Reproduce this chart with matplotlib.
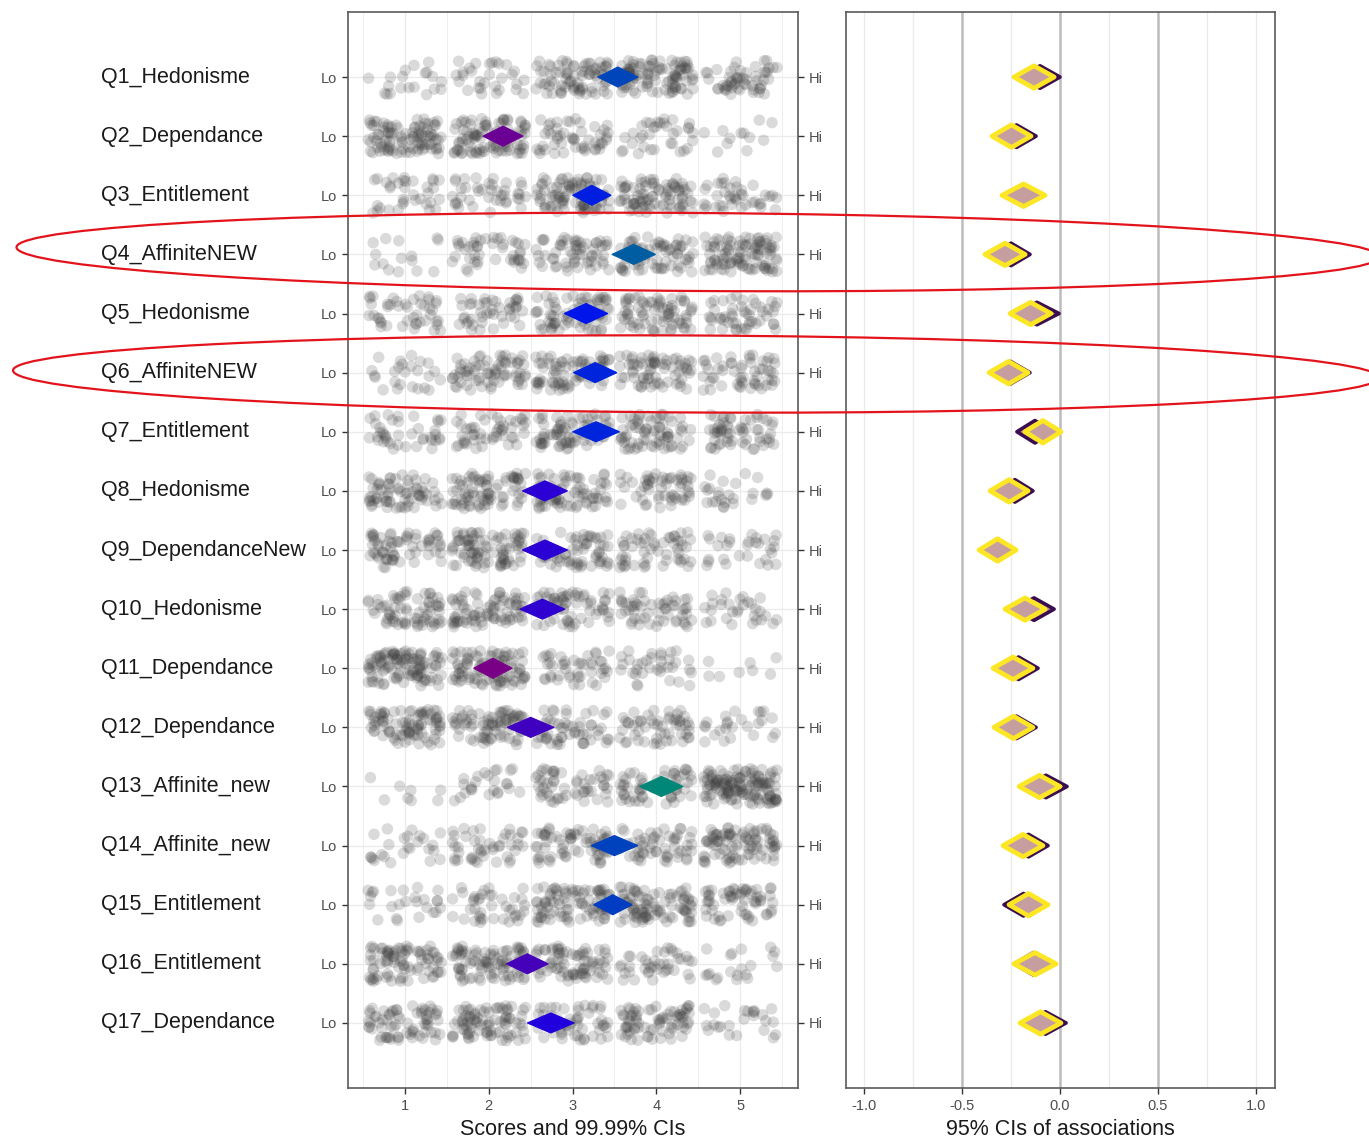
import numpy as np
import matplotlib
matplotlib.use("Agg")
import matplotlib.pyplot as plt
from matplotlib.colors import LinearSegmentedColormap, Normalize
from matplotlib.patches import Polygon, Ellipse
from matplotlib.transforms import blended_transform_factory

plt.rcParams['font.family'] = ['Liberation Sans', 'DejaVu Sans']

# ---------------- data ----------------
items = ["Q1_Hedonisme", "Q2_Dependance", "Q3_Entitlement", "Q4_AffiniteNEW",
         "Q5_Hedonisme", "Q6_AffiniteNEW", "Q7_Entitlement", "Q8_Hedonisme",
         "Q9_DependanceNew", "Q10_Hedonisme", "Q11_Dependance", "Q12_Dependance",
         "Q13_Affinite_new", "Q14_Affinite_new", "Q15_Entitlement",
         "Q16_Entitlement", "Q17_Dependance"]

# number of responses at score levels 1..5 (estimated from point density)
levels = [1, 2, 3, 4, 5]
counts = [
    [20, 30, 80, 100, 55],
    [100, 95, 50, 35, 12],
    [35, 40, 90, 85, 40],
    [15, 45, 60, 70, 100],
    [45, 45, 80, 75, 50],
    [25, 70, 75, 70, 55],
    [40, 50, 75, 70, 60],
    [70, 80, 75, 55, 25],
    [65, 90, 65, 55, 30],
    [70, 80, 65, 55, 30],
    [110, 95, 45, 35, 8],
    [90, 80, 55, 55, 25],
    [8, 25, 55, 60, 140],
    [25, 45, 70, 55, 90],
    [25, 40, 90, 90, 60],
    [85, 90, 75, 40, 20],
    [70, 85, 55, 75, 25],
]

# item means and 99.99% CI bounds
means = [3.54, 2.17, 3.23, 3.73, 3.16, 3.27, 3.28, 2.67, 2.67, 2.64,
         2.05, 2.50, 4.06, 3.50, 3.48, 2.46, 2.74]
ci_lo = [3.30, 1.93, 3.00, 3.47, 2.90, 3.01, 3.00, 2.40, 2.40, 2.37,
         1.82, 2.22, 3.80, 3.22, 3.25, 2.21, 2.46]
ci_hi = [3.78, 2.41, 3.46, 3.99, 3.42, 3.53, 3.56, 2.94, 2.94, 2.91,
         2.28, 2.78, 4.32, 3.78, 3.71, 2.71, 3.02]

# 95% CIs of associations (two targets)
assoc1_lo = [-0.235, -0.347, -0.296, -0.383, -0.255, -0.362, -0.179, -0.357, -0.413,
             -0.281, -0.342, -0.337, -0.209, -0.291, -0.260, -0.235, -0.204]
assoc1_hi = [-0.030, -0.148, -0.076, -0.178, -0.046, -0.163, 0.005, -0.163, -0.224,
             -0.076, -0.138, -0.138, 0.000, -0.087, -0.061, -0.020, 0.005]
assoc2_lo = [-0.204, -0.322, -0.286, -0.347, -0.230, -0.352, -0.220, -0.322, -0.408,
             -0.235, -0.311, -0.322, -0.179, -0.260, -0.286, -0.235, -0.179]
assoc2_hi = [0.000, -0.122, -0.087, -0.153, -0.005, -0.153, -0.036, -0.138, -0.229,
             -0.030, -0.112, -0.122, 0.036, -0.061, -0.087, -0.036, 0.031]

left_ticks = [1, 2, 3, 4, 5]
right_ticks = [-1.0, -0.5, 0.0, 0.5, 1.0]
right_ticklabels = ["-1.0", "-0.5", "0.0", "0.5", "1.0"]

# ---------------- figure ----------------
W, H = 1369, 1143
fig = plt.figure(figsize=(W / 100, H / 100), dpi=100)
fig.patch.set_facecolor('white')

axL = fig.add_axes([348 / W, 1 - 1088 / H, 450 / W, 1076 / H])
axR = fig.add_axes([846 / W, 1 - 1088 / H, 429 / W, 1076 / H])

n = len(items)
ypos = np.arange(n, 0, -1)  # Q1 at top
ylim = (-0.1, 18.1)

cmap = LinearSegmentedColormap.from_list("rbg", ["#FF0000", "#0000FF", "#00FF00"])
norm = Normalize(1, 5)

grid_c = '#ebebeb'
spine_c = '#5a5a5a'
tick_c = '#4d4d4d'

# ---- left panel ----
axL.set_xlim(0.32, 5.69)
axL.set_ylim(*ylim)
for v in np.arange(0.5, 5.51, 0.5):
    axL.axvline(v, color=grid_c, lw=1.0 if v % 1 == 0 else 0.6, zorder=0)
for y in ypos:
    axL.axhline(y, color=grid_c, lw=1.0, zorder=0)

rng = np.random.default_rng(7)  # jitter only (like geom_jitter)
for y, cnt in zip(ypos, counts):
    xs, ys = [], []
    for lev, c in zip(levels, cnt):
        xs.append(lev + rng.uniform(-0.44, 0.44, c))
        ys.append(y + rng.uniform(-0.30, 0.30, c))
    axL.scatter(np.concatenate(xs), np.concatenate(ys), s=68, color='#3c3c3c',
                alpha=0.19, edgecolors='none', zorder=2)

hL = 0.17
for y, m, lo, hi in zip(ypos, means, ci_lo, ci_hi):
    col = cmap(norm(m))
    axL.add_patch(Polygon([(lo, y), (m, y + hL), (hi, y), (m, y - hL)], closed=True,
                          facecolor=col, edgecolor=col, lw=0.8, zorder=4))

axL.set_xticks(left_ticks)
axL.set_xticklabels([str(t) for t in left_ticks])
axL.set_yticks(ypos)
axL.set_yticklabels(['Lo'] * n)
axL.tick_params(axis='both', colors='#333333', labelcolor=tick_c, labelsize=10.5,
                length=4.5, width=1.0)
axL.set_xlabel("Scores and 99.99% CIs", fontsize=15.5, color='#1a1a1a', labelpad=4)
for s in axL.spines.values():
    s.set_color(spine_c)
    s.set_linewidth(1.2)

axL2 = axL.twinx()
axL2.set_ylim(*ylim)
axL2.set_yticks(ypos)
axL2.set_yticklabels(['Hi'] * n)
axL2.tick_params(axis='y', colors='#333333', labelcolor=tick_c, labelsize=10.5,
                 length=4.5, width=1.0)
for s in axL2.spines.values():
    s.set_visible(False)

trans = blended_transform_factory(fig.transFigure, axL.transData)
for y, name in zip(ypos, items):
    axL.text(101 / W, y, name, transform=trans, ha='left', va='center',
             fontsize=15.5, color='#1a1a1a')

# ---- right panel ----
axR.set_xlim(-1.092, 1.097)
axR.set_ylim(*ylim)
for v in np.arange(-1.0, 1.01, 0.25):
    axR.axvline(v, color=grid_c, lw=1.0, zorder=0)
for v in [-0.5, 0.0, 0.5]:
    axR.axvline(v, color='#bdbdbd', lw=1.8, zorder=0.5)

hR = 0.19
for y, l1, h1, l2, h2 in zip(ypos, assoc1_lo, assoc1_hi, assoc2_lo, assoc2_hi):
    m2 = (l2 + h2) / 2
    axR.add_patch(Polygon([(l2, y), (m2, y + hR), (h2, y), (m2, y - hR)], closed=True,
                          facecolor='#b8909c', edgecolor='#3b0f4f', lw=2.6, zorder=3,
                          joinstyle='round'))
    m1 = (l1 + h1) / 2
    axR.add_patch(Polygon([(l1, y), (m1, y + hR), (h1, y), (m1, y - hR)], closed=True,
                          facecolor='#c79ea0', edgecolor='#FDE725', lw=3.4, zorder=4,
                          joinstyle='round'))

axR.set_xticks(right_ticks)
axR.set_xticklabels(right_ticklabels)
axR.set_yticks([])
axR.tick_params(axis='x', colors='#333333', labelcolor=tick_c, labelsize=10.5,
                length=4.5, width=1.0)
axR.set_xlabel("95% CIs of associations", fontsize=15.5, color='#1a1a1a', labelpad=4)
for s in axR.spines.values():
    s.set_color(spine_c)
    s.set_linewidth(1.2)

# ---- red highlight ellipses (annotation overlay) ----
ov = fig.add_axes([0, 0, 1, 1], facecolor='none')
ov.set_xlim(0, W)
ov.set_ylim(H, 0)
ov.axis('off')
ov.add_patch(Ellipse((698, 252), 1363, 78, angle=0.4, fill=False, edgecolor='#e3131b', lw=1.6))
ov.add_patch(Ellipse((696, 374), 1366, 77, angle=0.3, fill=False, edgecolor='#e3131b', lw=1.6))

fig.savefig("out.png", dpi=100, facecolor='white')
